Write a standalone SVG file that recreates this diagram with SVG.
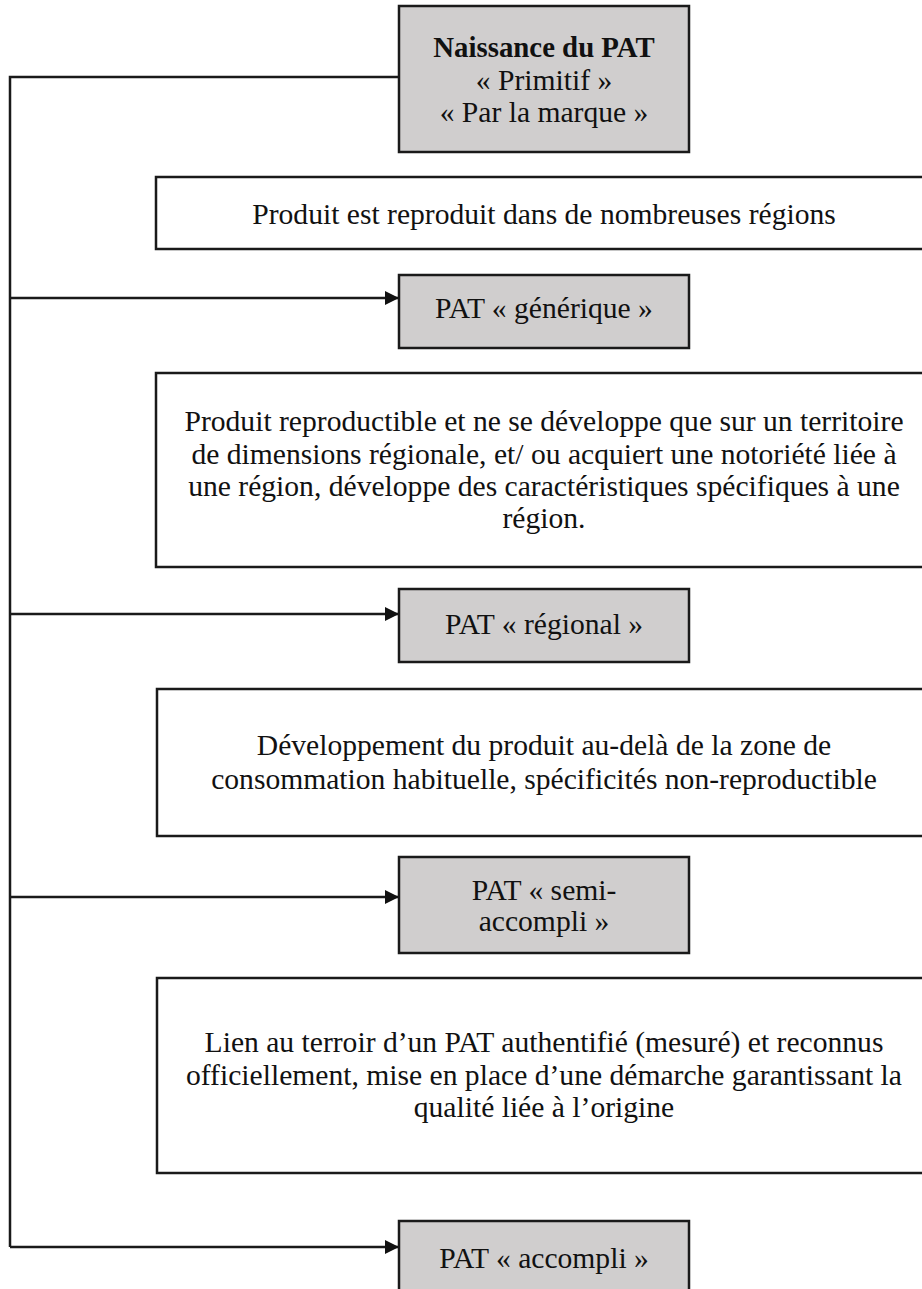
<svg xmlns="http://www.w3.org/2000/svg" width="922" height="1289" viewBox="0 0 922 1289">
<style>
.g{fill:#d0cece;stroke:#1a1a1a;stroke-width:2.5}
.w{fill:#ffffff;stroke:#1a1a1a;stroke-width:2.5}
text{font-family:"Liberation Serif","Times New Roman",serif;font-size:29.6px;fill:#111;text-anchor:middle}
.b{font-weight:bold;font-size:28.8px}
.c{fill:none;stroke:#1a1a1a;stroke-width:2.5}
</style>
<defs>
<marker id="ah" markerWidth="14" markerHeight="14" refX="14" refY="7" orient="auto" markerUnits="userSpaceOnUse">
<path d="M0,0 L14,7 L0,14 Z" fill="#111"/>
</marker>
</defs>
<rect width="922" height="1289" fill="#fff"/>
<g id="connectors">
<path class="c" d="M399,77 H10 V1247"/>
<line class="c" x1="10" y1="298" x2="399" y2="298" marker-end="url(#ah)"/>
<line class="c" x1="10" y1="614" x2="399" y2="614" marker-end="url(#ah)"/>
<line class="c" x1="10" y1="897" x2="399" y2="897" marker-end="url(#ah)"/>
<line class="c" x1="10" y1="1247" x2="399" y2="1247" marker-end="url(#ah)"/>
</g>
<g id="n-naissance">
<rect class="g" x="399" y="6" width="290" height="146"/>
<text x="544" y="57" class="b">Naissance du PAT</text>
<text x="544" y="90">« Primitif »</text>
<text x="544" y="122">« Par la marque »</text>
</g>
<g id="n-desc1">
<rect class="w" x="156" y="177" width="780" height="72"/>
<text x="544" y="224">Produit est reproduit dans de nombreuses régions</text>
</g>
<g id="n-generique">
<rect class="g" x="399" y="275" width="290" height="73"/>
<text x="544" y="318">PAT « générique »</text>
</g>
<g id="n-desc2">
<rect class="w" x="156" y="373" width="780" height="194"/>
<text x="544" y="431">Produit reproductible et ne se développe que sur un territoire</text>
<text x="544" y="464">de dimensions régionale, et/ ou acquiert une notoriété liée à</text>
<text x="544" y="496">une région, développe des caractéristiques spécifiques à une</text>
<text x="544" y="528">région.</text>
</g>
<g id="n-regional">
<rect class="g" x="399" y="589" width="290" height="73"/>
<text x="544" y="634">PAT « régional »</text>
</g>
<g id="n-desc3">
<rect class="w" x="157" y="689" width="780" height="147"/>
<text x="544" y="755">Développement du produit au-delà de la zone de</text>
<text x="544" y="789">consommation habituelle, spécificités non-reproductible</text>
</g>
<g id="n-semi">
<rect class="g" x="399" y="857" width="290" height="96"/>
<text x="544" y="900">PAT « semi-</text>
<text x="544" y="931">accompli »</text>
</g>
<g id="n-desc4">
<rect class="w" x="157" y="978" width="780" height="195"/>
<text x="544" y="1052">Lien au terroir d’un PAT authentifié (mesuré) et reconnus</text>
<text x="544" y="1085">officiellement, mise en place d’une démarche garantissant la</text>
<text x="544" y="1117">qualité liée à l’origine</text>
</g>
<g id="n-accompli">
<rect class="g" x="399" y="1221" width="290" height="80"/>
<text x="544" y="1268">PAT « accompli »</text>
</g>
</svg>
